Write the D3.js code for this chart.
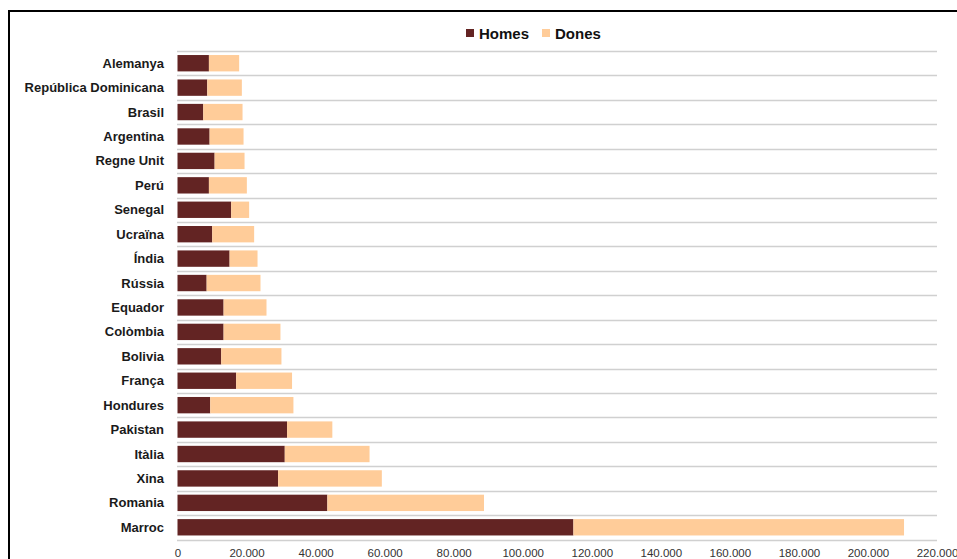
<!DOCTYPE html>
<html><head><meta charset="utf-8">
<script src="https://cdn.jsdelivr.net/npm/d3@7"></script>
<style>body{margin:0;background:#fff}svg{display:block}</style>
</head><body>
<svg id="c" width="957" height="559"></svg>
<script>
const categories = ["Alemanya","República Dominicana","Brasil","Argentina","Regne Unit","Perú","Senegal","Ucraïna","Índia","Rússia","Equador","Colòmbia","Bolivia","França","Hondures","Pakistan","Itàlia","Xina","Romania","Marroc"];
const homes = [9100,8620,7460,9300,10750,9100,15550,10060,15090,8440,13350,13350,12660,16990,9480,31730,31070,29130,43410,114680];
const dones = [8760,10020,11380,9830,8670,10990,5200,12140,8090,15600,12430,16470,17450,16190,24100,13120,24560,30060,45370,95770];
const tickValues = [0,20000,40000,60000,80000,100000,120000,140000,160000,180000,200000,220000];
const seriesNames = ["Homes","Dones"];
const colors = ["#632423","#FFCC99"];

const svg = d3.select("#c");
svg.append("rect").attr("x",9).attr("y",11).attr("width",1000).attr("height",600)
  .attr("fill","#fff").attr("stroke","#000").attr("stroke-width",2);

const x = d3.scaleLinear().domain([0,220000]).range([177.5,937]);
const y = d3.scaleBand().domain(categories).range([51,539.5]).paddingInner(0.33).paddingOuter(0.165);
const step = y.step();

// gridlines (category boundaries)
const g = svg.append("g");
d3.range(categories.length+1).forEach(i=>{
  const yy = Math.round(51 + i*step)+0.5;
  g.append("line").attr("x1",177).attr("x2",937).attr("y1",yy).attr("y2",yy)
   .attr("stroke","#d0d0d0").attr("stroke-width",1.3);
});

const data = categories.map((c,i)=>({cat:c, Homes:homes[i], Dones:dones[i]}));
const stack = d3.stack().keys(seriesNames)(data);
stack.forEach((s,si)=>{
  svg.append("g").selectAll("rect").data(s).join("rect")
    .attr("x",d=>x(d[0])).attr("width",d=>x(d[1])-x(d[0]))
    .attr("y",d=>y(d.data.cat)).attr("height",y.bandwidth())
    .attr("fill",colors[si]);
});

// category labels
svg.append("g").selectAll("text").data(categories).join("text")
  .attr("x",164).attr("y",d=>y(d)+y.bandwidth()/2).attr("dy","0.35em")
  .attr("text-anchor","end").attr("font-family","Liberation Sans, Arial, sans-serif")
  .attr("font-weight","bold").attr("font-size",13).attr("fill","#1a1a1a").text(d=>d);

// x axis
const fmt = v => d3.format(",")(v).replace(/,/g,".");
const ax = svg.append("g").attr("transform","translate(0,544)")
  .call(d3.axisBottom(x).tickValues(tickValues).tickFormat(fmt).tickSize(0).tickPadding(5));
ax.select(".domain").remove();
ax.selectAll("text").attr("font-family","Liberation Sans, Arial, sans-serif")
  .attr("font-size",11.5).attr("fill","#333");

// legend
const leg = svg.append("g");
const legItems = [{n:"Homes",x:466},{n:"Dones",x:542}];
legItems.forEach((it,i)=>{
  leg.append("rect").attr("x",it.x).attr("y",29).attr("width",8).attr("height",8).attr("fill",colors[i]);
  leg.append("text").attr("x",it.x+13).attr("y",39).attr("font-family","Liberation Sans, Arial, sans-serif")
    .attr("font-weight","bold").attr("font-size",15).attr("fill","#111").text(it.n);
});
</script>
</body></html>
